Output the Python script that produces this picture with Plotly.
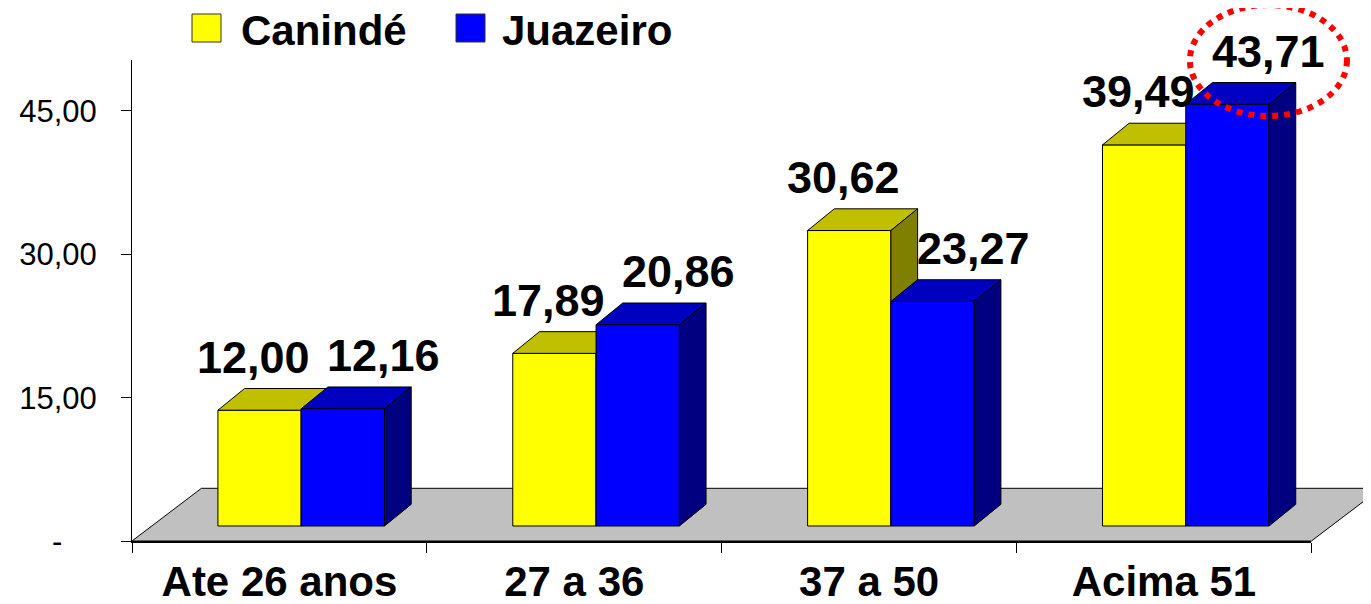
import plotly.graph_objects as go

# ---- data ----
categories = ["Ate 26 anos", "27 a 36", "37 a 50", "Acima 51"]
caninde = [12.00, 17.89, 30.62, 39.49]
juazeiro = [12.16, 20.86, 23.27, 43.71]
series_names = ["Canindé", "Juazeiro"]
y_tick_vals = [0, 15, 30, 45]
y_tick_text = ["-" + "\u00a0" * 4, "15,00", "30,00", "45,00"]

# ---- frame geometry (page pixels; the page body adds an 8px margin) ----
PAGE_W, PAGE_H = 1371, 604
OFF = 8
W, H = PAGE_W - OFF, PAGE_H - OFF
LEFT, BOTTOM = 132, 551          # page coords of the paper edges
ML, MB = LEFT - OFF, PAGE_H - BOTTOM
PW, PH = PAGE_W - LEFT, BOTTOM - OFF
CAT_PX = 294.85          # width of one category
AX_BOTTOM, AX_TOP = 541, 60
AX_PX = 9.556            # px per unit on the value axis
BAR_BASE = 526           # front bottom of the bars
BAR_PX = 9.65            # px per unit on the bar plane

BAR_W = 0.2825
YEL_OFF = -0.2086
BLU_OFF = YEL_OFF + BAR_W
DX = 26.7 / CAT_PX       # 3d depth of the bars
DY = 21.7 / BAR_PX
FLOOR_DX = 69.4 / CAT_PX
FLOOR_DY = 52.7 / BAR_PX
FLOOR_Y = -(AX_BOTTOM - BAR_BASE) / BAR_PX

FONT = "Arial, 'Liberation Sans', sans-serif"
colors = {
    "Canindé": {"front": "#FFFF00", "top": "#C0C000", "side": "#808000"},
    "Juazeiro": {"front": "#0000FF", "top": "#0000C0", "side": "#000080"},
}


def faces(values, offset):
    fx, fy, tx, ty, sx, sy = [], [], [], [], [], []
    for i, v in enumerate(values):
        xl = i + offset
        xr = xl + BAR_W
        fx += [xl, xr, xr, xl, xl, None]
        fy += [0, 0, v, v, 0, None]
        tx += [xl, xr, xr + DX, xl + DX, xl, None]
        ty += [v, v, v + DY, v + DY, v, None]
        sx += [xr, xr + DX, xr + DX, xr, xr, None]
        sy += [0, DY, v + DY, v, 0, None]
    return {"front": (fx, fy), "top": (tx, ty), "side": (sx, sy)}


fig = go.Figure()

# helper so the category axis knows its categories
fig.add_trace(go.Scatter(x=categories, y=[0] * 4, mode="markers", marker_opacity=0,
                         hoverinfo="skip", showlegend=False, xaxis="x", yaxis="y"))

# floor
fig.add_trace(go.Scatter(
    x=[-0.5, 3.5, 3.5 + FLOOR_DX, -0.5 + FLOOR_DX, -0.5],
    y=[FLOOR_Y, FLOOR_Y, FLOOR_Y + FLOOR_DY, FLOOR_Y + FLOOR_DY, FLOOR_Y],
    mode="lines", fill="toself", fillcolor="#C0C0C0",
    line=dict(color="black", width=1), hoverinfo="skip", showlegend=False,
    xaxis="x2", yaxis="y2"))

# 3d bars, yellow first so blue sits in front
for name, vals, off in [("Canindé", caninde, YEL_OFF), ("Juazeiro", juazeiro, BLU_OFF)]:
    polys = faces(vals, off)
    for face in ["front", "top", "side"]:
        x, y = polys[face]
        fig.add_trace(go.Scatter(
            x=x, y=y, mode="lines", fill="toself", fillcolor=colors[name][face],
            line=dict(color="black", width=1), name=name, showlegend=False,
            hoverinfo="skip", xaxis="x2", yaxis="y2"))

# value labels
label_dx = {"Canindé": -6 / CAT_PX, "Juazeiro": 41 / CAT_PX}
for name, vals, off in [("Canindé", caninde, YEL_OFF), ("Juazeiro", juazeiro, BLU_OFF)]:
    for i, v in enumerate(vals):
        fig.add_annotation(
            x=i + off + BAR_W / 2 + label_dx[name], y=v + DY, xref="x2", yref="y2",
            text="<b>" + f"{v:.2f}".replace(".", ",") + "</b>", showarrow=False,
            xanchor="center", yanchor="bottom", yshift=4,
            font=dict(family=FONT, size=45, color="black"))

# dotted ring around the highest value
imax = juazeiro.index(max(juazeiro))
cx = imax + BLU_OFF + BAR_W / 2 + label_dx["Juazeiro"]
cy = juazeiro[imax] + DY + 22 / BAR_PX
rx, ry = 78.5 / CAT_PX, 55.5 / BAR_PX
fig.add_shape(type="circle", xref="x2", yref="y2", x0=cx - rx, x1=cx + rx,
              y0=cy - ry, y1=cy + ry, line=dict(color="#FF0000", width=6, dash="dot"))


# legend drawn by hand (big squares)
def px_x(p):
    return (p - LEFT) / PW


def px_y(p):
    return (BOTTOM - p) / PH


legend_items = [("Canindé", 192, 239), ("Juazeiro", 456, 500)]
for name, sq_x, txt_x in legend_items:
    fig.add_shape(type="rect", xref="paper", yref="paper",
                  x0=px_x(sq_x), x1=px_x(sq_x + 29), y0=px_y(42), y1=px_y(14),
                  fillcolor=colors[name]["front"], line=dict(color="#333333", width=1))
    fig.add_annotation(x=px_x(txt_x), y=px_y(30), xref="paper", yref="paper",
                       text="<b>" + name + "</b>", showarrow=False,
                       xanchor="left", yanchor="middle",
                       font=dict(family=FONT, size=42, color="black"))

fig.update_layout(
    width=W, height=H,
    margin=dict(l=ML, r=0, t=0, b=MB),
    paper_bgcolor="white", plot_bgcolor="rgba(0,0,0,0)",
    showlegend=False,
    xaxis=dict(domain=[0, CAT_PX * 4 / PW], type="category",
               categoryorder="array", categoryarray=categories,
               range=[-0.5, 3.5], tickson="boundaries", ticks="outside",
               ticklen=10, tickcolor="black", showline=True, linecolor="black",
               linewidth=1.5, showgrid=False, zeroline=False, anchor="y",
               tickfont=dict(family=FONT, size=42, color="black", weight="bold"),
               ticklabelstandoff=3, automargin=False, fixedrange=True),
    yaxis=dict(domain=[(BOTTOM - AX_BOTTOM) / PH, (BOTTOM - AX_TOP) / PH],
               range=[0, (AX_BOTTOM - AX_TOP) / AX_PX],
               tickvals=y_tick_vals, ticktext=y_tick_text,
               ticks="outside", ticklen=10, tickcolor="black",
               showline=True, linecolor="black", linewidth=1,
               showgrid=False, zeroline=False, anchor="x",
               tickfont=dict(family=FONT, size=31, color="black"),
               ticklabelstandoff=18, automargin=False, fixedrange=True),
    xaxis2=dict(domain=[0, 1], anchor="y2", range=[-0.5, -0.5 + PW / CAT_PX],
                visible=False, fixedrange=True),
    yaxis2=dict(domain=[0, 1], anchor="x2",
                range=[-(BOTTOM - BAR_BASE) / BAR_PX, (BAR_BASE - OFF) / BAR_PX],
                visible=False, fixedrange=True),
)

fig.write_html("out.html")
